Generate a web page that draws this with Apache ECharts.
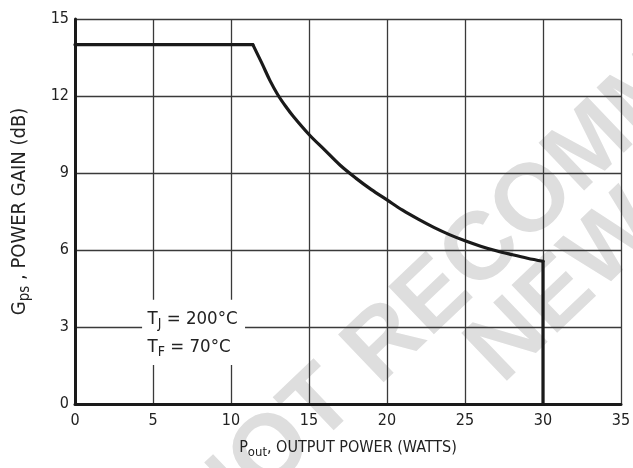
<!DOCTYPE html>
<html>
<head>
<meta charset="utf-8">
<script src="https://cdn.jsdelivr.net/npm/echarts@6/dist/echarts.min.js"></script>
<style>
  html, body { margin: 0; padding: 0; background: #fff; }
  #chart { width: 633px; height: 468px; }
</style>
</head>
<body>
<div id="chart"></div>
<script>
// power gain vs output power
const flatX = [0, 11.4];
const flatY = [14, 14];
const curveX = [11.4, 12, 12.5, 13, 13.5, 14, 15, 16, 17, 18, 19, 20, 21, 22, 23, 24, 25, 26, 27, 28, 29, 30];
const curveY = [14, 13.25, 12.6, 12.05, 11.6, 11.2, 10.5, 9.9, 9.3, 8.8, 8.35, 7.95, 7.55, 7.2, 6.88, 6.6, 6.36, 6.15, 5.97, 5.82, 5.68, 5.56];
const dropX = [30, 30];
const dropY = [5.56, 0];

const xTicks = [0, 5, 10, 15, 20, 25, 30, 35];
const yTicks = [0, 3, 6, 9, 12, 15];

const noteLines = ['{t|T}{s|J}{t| = 200°C}', '{t|T}{s|F}{t| = 70°C}'];
const watermark = ['NOT RECOMMENDED FOR', 'NEW DESIGN'];

const FONT = '"Liberation Sans Narrow", "DejaVu Sans Condensed", "Liberation Sans", sans-serif';
const INK = '#1a1a1a';

const chart = echarts.init(document.getElementById('chart'), null, { renderer: 'canvas' });

const pairs = (xs, ys) => xs.map((x, i) => [x, ys[i]]);
const lineSeries = (data, smooth) => ({
  type: 'line', data, smooth, showSymbol: false, z: 6,
  lineStyle: { color: INK, width: 3.2, cap: 'round', join: 'round' }
});

chart.setOption({
  // page is white; keep the canvas clear so the watermark layer shows under the grid
  backgroundColor: 'transparent',
  animation: false,
  grid: { left: 75, right: 12, top: 19, bottom: 64, containLabel: false, outerBoundsMode: 'none' },
  xAxis: {
    type: 'value', min: xTicks[0], max: xTicks[xTicks.length - 1], interval: 5,
    axisLine: { show: true, onZero: false, lineStyle: { color: INK, width: 3 } },
    axisTick: { show: false },
    splitLine: { show: true, lineStyle: { color: '#3a3a3a', width: 1.3 } },
    axisLabel: { margin: 9, fontFamily: FONT, fontSize: 16, color: '#222' },
    name: '{t|P}{s|out}{t|, OUTPUT POWER (WATTS)}',
    nameLocation: 'middle', nameGap: 33,
    nameTextStyle: {
      rich: {
        t: { fontFamily: FONT, fontSize: 16, color: '#222' },
        s: { fontFamily: FONT, fontSize: 13, color: '#222', padding: [9, 0, 0, 0] }
      }
    }
  },
  yAxis: {
    type: 'value', min: yTicks[0], max: yTicks[yTicks.length - 1], interval: 3,
    axisLine: { show: true, onZero: false, lineStyle: { color: INK, width: 3 } },
    axisTick: { show: false },
    splitLine: { show: true, lineStyle: { color: '#3a3a3a', width: 1.3 } },
    axisLabel: { margin: 6, fontFamily: FONT, fontSize: 16, color: '#222' },
    name: '{t|G}{s|ps}{t| , POWER GAIN (dB)}',
    nameLocation: 'middle', nameGap: 42, nameRotate: 90,
    nameTextStyle: {
      rich: {
        t: { fontFamily: FONT, fontSize: 20, color: '#222' },
        s: { fontFamily: FONT, fontSize: 15, color: '#222', padding: [11, 0, 0, 0] }
      }
    }
  },
  series: [
    lineSeries(pairs(flatX, flatY), false),
    lineSeries(pairs(curveX, curveY), 0.35),
    lineSeries(pairs(dropX, dropY), false)
  ]
});

// annotation box and watermark, placed through the axis scales
const px = (x, y) => chart.convertToPixel({ gridIndex: 0 }, [x, y]);
const boxA = px(4.3, 4.06), boxB = px(10.9, 1.52);
const note1 = px(4.65, 3.3), note2 = px(4.65, 2.22);
const ang = 43.7 * Math.PI / 180;
const wmStyle = { fontFamily: '"Liberation Sans", Arial, sans-serif', fontWeight: 'bold', fontSize: 96, fill: '#dedede', textAlign: 'left', textVerticalAlign: 'middle' };
const noteRich = {
  t: { fontFamily: FONT, fontSize: 18.5, fill: '#222' },
  s: { fontFamily: FONT, fontSize: 14, fill: '#222', padding: [10, 0, 0, 0] }
};

chart.setOption({
  graphic: [
    { type: 'text', x: 195, y: 526, rotation: ang, zlevel: -1, silent: true, style: Object.assign({ text: watermark[0] }, wmStyle) },
    { type: 'text', x: 484, y: 366, rotation: ang, zlevel: -1, silent: true, style: Object.assign({ text: watermark[1] }, wmStyle) },
    {
      type: 'rect', z: 10, silent: true,
      shape: { x: boxA[0], y: boxA[1], width: boxB[0] - boxA[0], height: boxB[1] - boxA[1] },
      style: { fill: '#fff' }
    },
    { type: 'text', x: note1[0], y: note1[1], z: 11, silent: true, style: { text: noteLines[0], rich: noteRich, textVerticalAlign: 'middle' } },
    { type: 'text', x: note2[0], y: note2[1], z: 11, silent: true, style: { text: noteLines[1], rich: noteRich, textVerticalAlign: 'middle' } }
  ]
});
</script>
</body>
</html>
